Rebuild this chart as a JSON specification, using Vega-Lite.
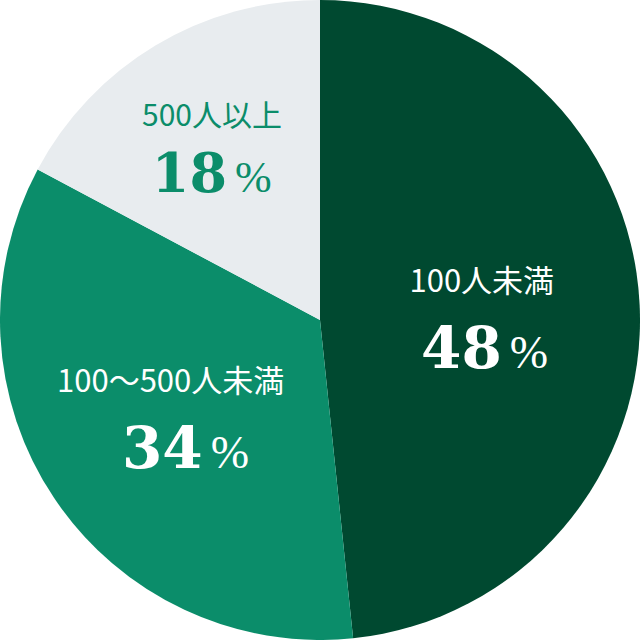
{
  "$schema": "https://vega.github.io/schema/vega-lite/v6.json",
  "width": 640,
  "height": 640,
  "padding": 0,
  "autosize": {"type": "fit", "contains": "padding"},
  "background": "white",
  "config": {"view": {"stroke": null}},
  "data": {
    "values": [
      {"category": "100人未満", "value": 48.35, "pct": 48, "order": 1},
      {"category": "100～500人未満", "value": 34.45, "pct": 34, "order": 2},
      {"category": "500人以上", "value": 17.2, "pct": 18, "order": 3}
    ]
  },
  "transform": [
    {"stack": "value", "groupby": [], "sort": [{"field": "order", "order": "ascending"}], "as": ["v0", "v1"]},
    {"calculate": "(datum.v0 + datum.v1) / 2", "as": "mid"}
  ],
  "layer": [
    {
      "mark": {"type": "arc", "stroke": null},
      "encoding": {
        "theta": {"field": "v0", "type": "quantitative", "scale": {"domain": [0, 100]}},
        "theta2": {"field": "v1"},
        "color": {
          "field": "category",
          "type": "nominal",
          "scale": {
            "domain": ["100人未満", "100～500人未満", "500人以上"],
            "range": ["#004930", "#0b8d6a", "#e8ecef"]
          },
          "legend": null
        }
      }
    },
    {
      "transform": [{"filter": "datum.order == 1"}],
      "mark": {"type": "text", "radius": 162, "dy": -20, "align": "center", "baseline": "alphabetic", "font": "Noto Sans CJK JP", "fontSize": 31, "color": "white"},
      "encoding": {"theta": {"field": "mid", "type": "quantitative", "stack": null}, "text": {"field": "category"}}
    },
    {
      "transform": [{"filter": "datum.order == 1"}],
      "mark": {"type": "text", "radius": 162, "dx": 20, "dy": 56, "align": "right", "baseline": "alphabetic", "font": "DejaVu Serif", "fontWeight": "bold", "fontSize": 58, "color": "white"},
      "encoding": {"theta": {"field": "mid", "type": "quantitative", "stack": null}, "text": {"field": "pct"}}
    },
    {
      "transform": [{"filter": "datum.order == 1"}],
      "mark": {"type": "text", "radius": 162, "dx": 28, "dy": 56, "align": "left", "baseline": "alphabetic", "font": "Liberation Serif", "fontSize": 46, "color": "white"},
      "encoding": {"theta": {"field": "mid", "type": "quantitative", "stack": null}, "text": {"value": "%"}}
    },
    {
      "transform": [{"filter": "datum.order == 2"}],
      "mark": {"type": "text", "radius": 180, "dy": -28, "align": "center", "baseline": "alphabetic", "font": "Noto Sans CJK JP", "fontSize": 31, "color": "white"},
      "encoding": {"theta": {"field": "mid", "type": "quantitative", "stack": null}, "text": {"field": "category"}}
    },
    {
      "transform": [{"filter": "datum.order == 2"}],
      "mark": {"type": "text", "radius": 180, "dx": 32, "dy": 48, "align": "right", "baseline": "alphabetic", "font": "DejaVu Serif", "fontWeight": "bold", "fontSize": 58, "color": "white"},
      "encoding": {"theta": {"field": "mid", "type": "quantitative", "stack": null}, "text": {"field": "pct"}}
    },
    {
      "transform": [{"filter": "datum.order == 2"}],
      "mark": {"type": "text", "radius": 180, "dx": 40, "dy": 48, "align": "left", "baseline": "alphabetic", "font": "Liberation Serif", "fontSize": 46, "color": "white"},
      "encoding": {"theta": {"field": "mid", "type": "quantitative", "stack": null}, "text": {"value": "%"}}
    },
    {
      "transform": [{"filter": "datum.order == 3"}],
      "mark": {"type": "text", "radius": 210, "dy": -14, "align": "center", "baseline": "alphabetic", "font": "Noto Sans CJK JP", "fontSize": 30, "color": "#0b8d6a"},
      "encoding": {"theta": {"field": "mid", "type": "quantitative", "stack": null}, "text": {"field": "category"}}
    },
    {
      "transform": [{"filter": "datum.order == 3"}],
      "mark": {"type": "text", "radius": 210, "dx": 15, "dy": 52, "align": "right", "baseline": "alphabetic", "font": "DejaVu Serif", "fontWeight": "bold", "fontSize": 54, "color": "#0b8d6a"},
      "encoding": {"theta": {"field": "mid", "type": "quantitative", "stack": null}, "text": {"field": "pct"}}
    },
    {
      "transform": [{"filter": "datum.order == 3"}],
      "mark": {"type": "text", "radius": 210, "dx": 23, "dy": 52, "align": "left", "baseline": "alphabetic", "font": "Liberation Serif", "fontSize": 44, "color": "#0b8d6a"},
      "encoding": {"theta": {"field": "mid", "type": "quantitative", "stack": null}, "text": {"value": "%"}}
    }
  ]
}
